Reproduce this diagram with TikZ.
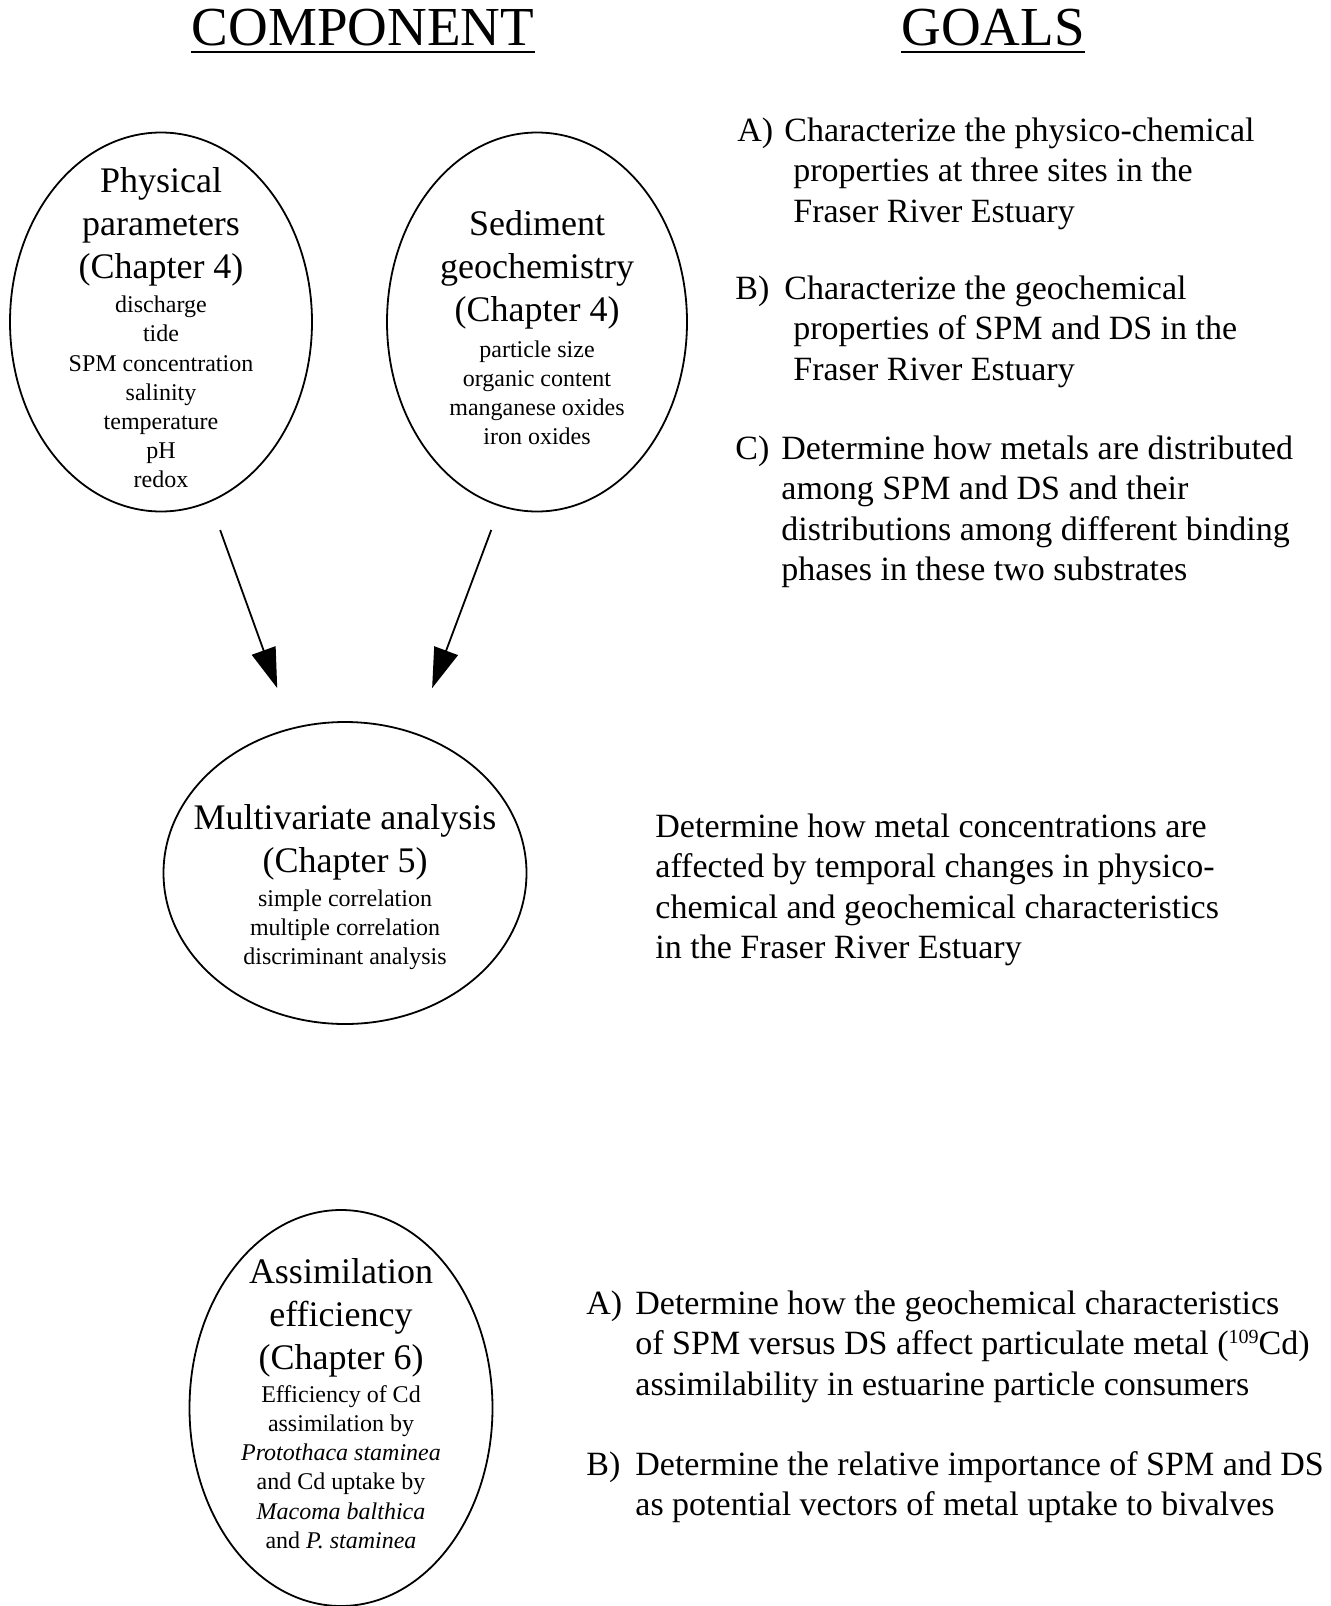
\documentclass[tikz,border=0pt]{standalone}
\usepackage{fontspec}
\setmainfont{Liberation Serif}
\usepackage{tikz}
\usetikzlibrary{shapes.geometric,arrows.meta,positioning}

\newcommand{\bigfont}{\fontsize{18}{21.5}\selectfont}
\newcommand{\smallfont}{\fontsize{12}{14.6}\selectfont}
\newcommand{\goalfont}{\fontsize{17}{20.3}\selectfont}
% text inside an oval: raise, extra gap, title lines, item lines
\newcommand{\ovaltext}[4]{%
  \raisebox{#1}[0pt][0pt]{\makebox[0pt]{\begin{minipage}[t]{200pt}\centering
  \bigfont #3\par\vspace{#2}\smallfont #4\par\end{minipage}}}}

\tikzset{
  oval/.style={ellipse,draw,line width=0.9pt,inner sep=0pt,outer sep=0pt},
  head/.style={font=\fontsize{27.5}{30}\selectfont,inner sep=0pt,anchor=base},
  goal/.style={font=\goalfont,inner sep=0pt,anchor=base west},
  arr/.style={-{Triangle[length=20pt,width=12.5pt]},line width=0.9pt},
  uline/.style={line width=1pt}
}

\begin{document}
\begin{tikzpicture}[x=0.5pt,y=-0.5pt]
  \useasboundingbox (0,0) rectangle (1330,1606);

  % headings
  \node[head] (tcomp) at (363,46) {COMPONENT};
  \node[head] (tgoal) at (993,46) {GOALS};
  \draw[uline]([yshift=-3pt]tcomp.base west)--([yshift=-3pt]tcomp.base east);
  \draw[uline]([yshift=-3pt]tgoal.base west)--([yshift=-3pt]tgoal.base east);

  % components
  \node[oval,minimum width=151pt,minimum height=189.5pt] (phys) at (161,322)
    {\ovaltext{64.75pt}{2.5pt}{Physical\\parameters\\(Chapter 4)}
      {discharge\\tide\\SPM concentration\\salinity\\temperature\\pH\\redox}};
  \node[oval,minimum width=150pt,minimum height=189.5pt] (sed) at (537,322)
    {\ovaltext{43.5pt}{3.4pt}{Sediment\\geochemistry\\(Chapter 4)}
      {particle size\\organic content\\manganese oxides\\iron oxides}};
  \node[oval,minimum width=181.5pt,minimum height=151pt] (multi) at (345,873)
    {\ovaltext{22pt}{2.5pt}{Multivariate analysis\\(Chapter 5)}
      {simple correlation\\multiple correlation\\discriminant analysis}};
  \node[oval,minimum width=151.5pt,minimum height=198pt] (assim) at (341,1408)
    {\ovaltext{62.5pt}{2pt}{Assimilation\\efficiency\\(Chapter 6)}
      {Efficiency of Cd\\assimilation by\\\textit{Protothaca staminea}\\and Cd uptake by\\\textit{Macoma balthica}\\and \textit{P. staminea}}};

  \draw[arr,shorten <=110.6pt,shorten >=98.3pt]([xshift=-8pt]phys.center)--([xshift=-0.5pt]multi.center);
  \draw[arr,shorten <=111pt,shorten >=98.7pt]([xshift=16pt]sed.center)--([xshift=9pt]multi.center);

  % goals
  \node[goal] (ga) at (737,141) {\begin{tabular}[t]{@{}p{23.5pt}@{}l@{}}
    A)&Characterize the physico-chemical\\
      &\hspace{4.5pt}properties at three sites in the\\
      &\hspace{4.5pt}Fraser River Estuary\end{tabular}};
  \node[goal] (gb) at (735,299) {\begin{tabular}[t]{@{}p{24.5pt}@{}l@{}}
    B)&Characterize the geochemical\\
      &\hspace{4.5pt}properties of SPM and DS in the\\
      &\hspace{4.5pt}Fraser River Estuary\end{tabular}};
  \node[goal] (gc) at (735,459) {\begin{tabular}[t]{@{}p{23pt}@{}l@{}}
    C)&Determine how metals are distributed\\
      &among SPM and DS and their\\
      &distributions among different binding\\
      &phases in these two substrates\end{tabular}};
  \node[goal] (gm) at (655,837) {\begin{tabular}[t]{@{}l@{}}
    Determine how metal concentrations are\\
    affected by temporal changes in physico-\\
    chemical and geochemical characteristics\\
    in the Fraser River Estuary\end{tabular}};
  \node[goal] (gd) at (586,1314) {\begin{tabular}[t]{@{}p{24.5pt}@{}l@{}}
    A)&Determine how the geochemical characteristics\\
      &of SPM versus DS affect particulate metal ({\fontsize{10}{12}\selectfont\raisebox{5.5pt}{109}}Cd)\\
      &assimilability in estuarine particle consumers\end{tabular}};
  \node[goal] (ge) at (586,1475) {\begin{tabular}[t]{@{}p{24.5pt}@{}l@{}}
    B)&Determine the relative importance of SPM and DS\\
      &as potential vectors of metal uptake to bivalves\end{tabular}};
\end{tikzpicture}
\end{document}
